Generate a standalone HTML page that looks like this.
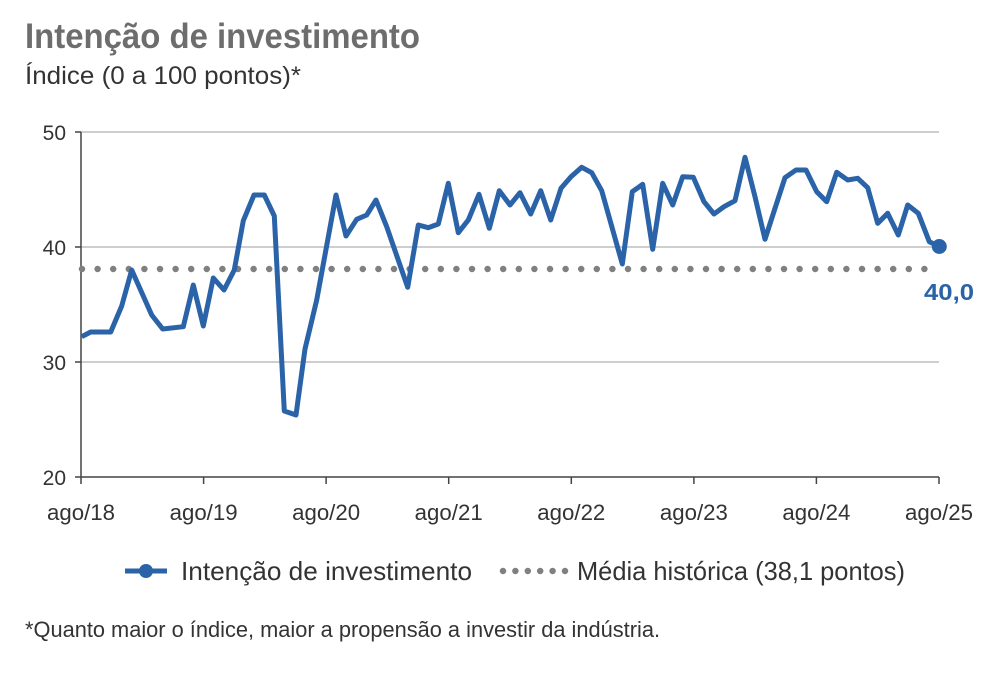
<!DOCTYPE html>
<html><head><meta charset="utf-8"><style>
body{margin:0;background:#fff;width:1000px;height:670px;overflow:hidden;font-family:"Liberation Sans",sans-serif;}
</style></head><body>
<svg width="1000" height="670" xmlns="http://www.w3.org/2000/svg" font-family="Liberation Sans, sans-serif">
<text x="25" y="48" font-size="35" font-weight="bold" fill="#6d6d6d" textLength="395" lengthAdjust="spacingAndGlyphs">Intenção de investimento</text>
<text x="25" y="84" font-size="25" fill="#333" textLength="276" lengthAdjust="spacingAndGlyphs">Índice (0 a 100 pontos)*</text>
<g stroke="#bdbdbd" stroke-width="1.5">
<line x1="81" y1="132" x2="939" y2="132"/><line x1="81" y1="247" x2="939" y2="247"/><line x1="81" y1="362" x2="939" y2="362"/>
</g>
<g stroke="#444" stroke-width="1.5">
<line x1="81" y1="132" x2="81" y2="477"/><line x1="81" y1="477" x2="939" y2="477"/>
<line x1="75" y1="132" x2="81" y2="132"/><line x1="75" y1="247" x2="81" y2="247"/><line x1="75" y1="362" x2="81" y2="362"/><line x1="75" y1="477" x2="81" y2="477"/>
<line x1="81" y1="477" x2="81" y2="484"/><line x1="203.6" y1="477" x2="203.6" y2="484"/><line x1="326.1" y1="477" x2="326.1" y2="484"/><line x1="448.7" y1="477" x2="448.7" y2="484"/><line x1="571.3" y1="477" x2="571.3" y2="484"/><line x1="693.9" y1="477" x2="693.9" y2="484"/><line x1="816.4" y1="477" x2="816.4" y2="484"/><line x1="939" y1="477" x2="939" y2="484"/>
</g>
<g font-size="21" fill="#333" text-anchor="end">
<text x="66" y="140">50</text><text x="66" y="255">40</text><text x="66" y="370">30</text><text x="66" y="485">20</text>
</g>
<g font-size="22" fill="#333">
<text x="47" y="520" textLength="68" lengthAdjust="spacingAndGlyphs">ago/18</text>
<text x="169.6" y="520" textLength="68" lengthAdjust="spacingAndGlyphs">ago/19</text>
<text x="292.1" y="520" textLength="68" lengthAdjust="spacingAndGlyphs">ago/20</text>
<text x="414.7" y="520" textLength="68" lengthAdjust="spacingAndGlyphs">ago/21</text>
<text x="537.3" y="520" textLength="68" lengthAdjust="spacingAndGlyphs">ago/22</text>
<text x="659.9" y="520" textLength="68" lengthAdjust="spacingAndGlyphs">ago/23</text>
<text x="782.4" y="520" textLength="68" lengthAdjust="spacingAndGlyphs">ago/24</text>
<text x="905" y="520" textLength="68" lengthAdjust="spacingAndGlyphs">ago/25</text>
</g>
<line x1="82" y1="269" x2="939" y2="269" stroke="#808080" stroke-width="6.5" stroke-linecap="round" stroke-dasharray="0 15.6"/>
<polyline fill="none" stroke="#2a63a8" stroke-width="5" stroke-linejoin="round" points="81.7,336.7 90.7,332 110.7,332 121.7,306 131.7,270 151.7,315 162.7,329 183.3,326.7 193.3,285 203.3,326 213.3,278 224,290 234.3,270 243.3,220.7 254,195 264.3,195 274.3,216 284.3,411 296,415 305,349 316.7,300 336,195 346,236 356.7,219.3 366.7,215 376,200 386.7,226.7 407.7,287.3 418.3,225 428.3,227.7 438.3,224 448.3,183.3 458.3,232.7 468.3,220 479,194.3 489.3,228.3 499.3,190.7 510,205 520,192.7 530.7,214 540.7,190.7 550.7,220 561,188.3 571,176.7 581.7,167.3 591.7,172.7 601.7,190.7 622.3,264 632.3,191.7 642.7,184.3 652.7,249.3 662.7,183.3 672.7,205 682.7,176.7 693.3,177.3 704,201.7 714,214 724,206.7 735,200.7 745,157.3 755,196.7 765,239.3 775,208.3 785,177.7 796,170 806,170 816.7,191.7 826.7,201.7 836.7,172.3 847.7,180 857.7,178.3 867.7,187.7 877.7,223.3 887.7,213.3 898.3,235 907.7,205 918.3,213.3 929.3,241.7 939.3,246.5"/>
<circle cx="939.3" cy="246.5" r="7.5" fill="#2a63a8"/>
<text x="974" y="300" font-size="23" font-weight="bold" fill="#2a63a8" text-anchor="end" textLength="50" lengthAdjust="spacingAndGlyphs">40,0</text>
<line x1="125" y1="571" x2="167" y2="571" stroke="#2a63a8" stroke-width="5"/>
<circle cx="146" cy="571" r="7" fill="#2a63a8"/>
<text x="181" y="580" font-size="26" fill="#333" textLength="291" lengthAdjust="spacingAndGlyphs">Intenção de investimento</text>
<line x1="503" y1="571" x2="565" y2="571" stroke="#808080" stroke-width="6.5" stroke-linecap="round" stroke-dasharray="0 12.4"/>
<text x="577" y="580" font-size="26" fill="#333" textLength="328" lengthAdjust="spacingAndGlyphs">Média histórica (38,1 pontos)</text>
<text x="25" y="637" font-size="22" fill="#333" textLength="635" lengthAdjust="spacingAndGlyphs">*Quanto maior o índice, maior a propensão a investir da indústria.</text>
</svg>
</body></html>
